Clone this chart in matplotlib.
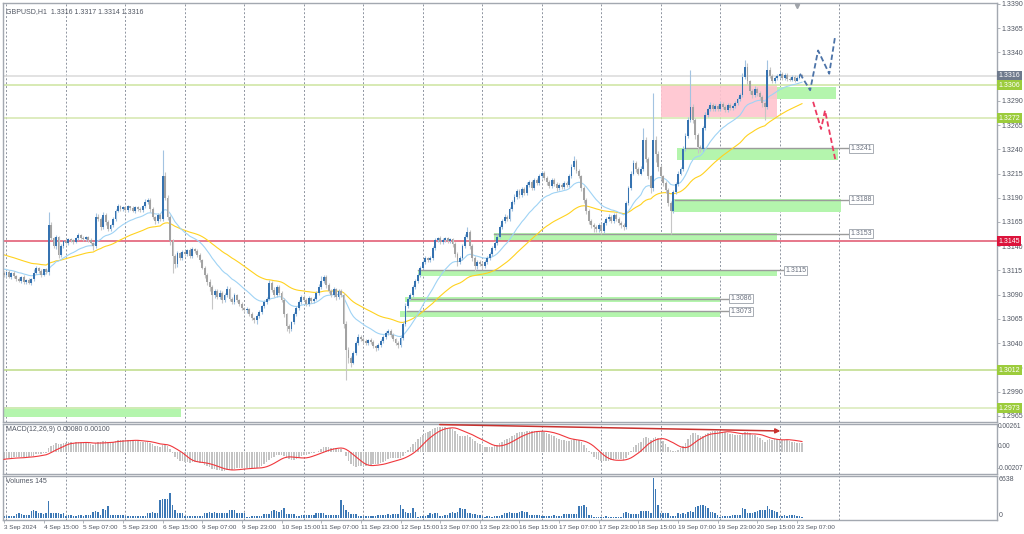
import numpy as np
import pandas as pd
import matplotlib
matplotlib.use('Agg')
import matplotlib.pyplot as plt
from matplotlib.patches import Rectangle
import matplotlib.transforms as mtransforms

plt.rcParams['font.family'] = ['Liberation Sans', 'DejaVu Sans']

# GBPUSD H1, first bar = 3 Sep 23:00 (server time)
first_open = 1.3112
closes = [
    1.3110, 1.3113, 1.3108, 1.3112, 1.3109, 1.3106, 1.3104, 1.3108, 1.3103, 1.3105,
    1.3102, 1.3106, 1.3112, 1.3118, 1.3114, 1.3110, 1.3116, 1.3113, 1.3162, 1.3148,
    1.3140, 1.3150, 1.3131, 1.3140, 1.3145, 1.3143, 1.3147, 1.3146, 1.3144, 1.3148,
    1.3152, 1.3149, 1.3147, 1.3150, 1.3146, 1.3143, 1.3140, 1.3170, 1.3168, 1.3160,
    1.3172, 1.3165, 1.3158, 1.3162, 1.3168, 1.3176, 1.3182, 1.3178, 1.3180, 1.3177,
    1.3181, 1.3179, 1.3176, 1.3180, 1.3178, 1.3177, 1.3181, 1.3186, 1.3188, 1.3178,
    1.3170, 1.3166, 1.3172, 1.3168, 1.3212, 1.3190, 1.3170, 1.3145, 1.3130, 1.3122,
    1.3133, 1.3128, 1.3134, 1.3132, 1.3136, 1.3130, 1.3137, 1.3135, 1.3131, 1.3126,
    1.3118, 1.3110, 1.3103, 1.3098, 1.3090, 1.3094, 1.3088, 1.3092, 1.3084, 1.3090,
    1.3096, 1.3086, 1.3082, 1.3090, 1.3084, 1.3080, 1.3076, 1.3074, 1.3075, 1.3070,
    1.3066, 1.3064, 1.3068, 1.3072, 1.3078, 1.3082, 1.3086, 1.3102, 1.3095, 1.3090,
    1.3098, 1.3092, 1.3085, 1.3070, 1.3058, 1.3055, 1.3062, 1.3070, 1.3076, 1.3082,
    1.3088, 1.3085, 1.3080, 1.3087, 1.3083, 1.3086, 1.3092, 1.3098, 1.3104, 1.3108,
    1.3100, 1.3094, 1.3090, 1.3096, 1.3088, 1.3094, 1.3090, 1.3060, 1.3033, 1.3025,
    1.3020, 1.3030, 1.3040, 1.3046, 1.3044, 1.3042, 1.3040, 1.3043, 1.3041, 1.3037,
    1.3035, 1.3038, 1.3042, 1.3046, 1.3050, 1.3053, 1.3048, 1.3044, 1.3040, 1.3038,
    1.3045, 1.3060, 1.3078, 1.3086, 1.3090, 1.3098, 1.3104, 1.3110, 1.3118, 1.3124,
    1.3128, 1.3126, 1.3128, 1.3138, 1.3146, 1.3148, 1.3144, 1.3146, 1.3148, 1.3145,
    1.3147, 1.3142, 1.3132, 1.3124, 1.3128, 1.3140, 1.3150, 1.3155, 1.3140, 1.3128,
    1.3120, 1.3124, 1.3122, 1.3120, 1.3124, 1.3128, 1.3132, 1.3138, 1.3143, 1.3150,
    1.3160, 1.3166, 1.3170, 1.3168, 1.3178, 1.3186, 1.3191, 1.3197, 1.3193, 1.3199,
    1.3195, 1.3203, 1.3206, 1.3200, 1.3208, 1.3205, 1.3212, 1.3216, 1.3210, 1.3206,
    1.3202, 1.3208, 1.3204, 1.3200, 1.3203, 1.3201, 1.3205, 1.3203, 1.3212, 1.3222,
    1.3228, 1.3218, 1.3212, 1.3200, 1.3188, 1.3176, 1.3166, 1.3162, 1.3160, 1.3158,
    1.3162, 1.3156, 1.3164, 1.3168, 1.3170, 1.3166, 1.3172, 1.3168, 1.3164, 1.3162,
    1.3160, 1.3185, 1.3200, 1.3215, 1.3226, 1.3220, 1.3215, 1.3220, 1.3250, 1.3230,
    1.3212, 1.3200, 1.3250, 1.3235, 1.3222, 1.3212, 1.3205, 1.3198, 1.3185, 1.3176,
    1.3196, 1.3204, 1.3215, 1.3220, 1.3240, 1.3254, 1.3270, 1.3284, 1.3270, 1.3255,
    1.3242, 1.3240, 1.3262, 1.3275, 1.3282, 1.3286, 1.3282, 1.3285, 1.3282, 1.3287,
    1.3284, 1.3281, 1.3286, 1.3283, 1.3285, 1.3288, 1.3292, 1.3296, 1.3315, 1.3325,
    1.3310, 1.3300, 1.3296, 1.3302, 1.3298, 1.3294, 1.3288, 1.3284, 1.3322, 1.3316,
    1.3310, 1.3314, 1.3316, 1.3318, 1.3314, 1.3317, 1.3313, 1.3312, 1.3315, 1.3311,
    1.3314, 1.3317, 1.3316,
]
# wick lengths in pips above / below the body
upper_wick = [
    2, 1, 2, 1, 2, 1, 2, 1, 2, 1, 2, 1, 4, 2, 1, 2, 1, 2, 13, 3,
    2, 2, 1, 2, 1, 2, 1, 2, 1, 2, 2, 1, 2, 1, 1, 2, 1, 4, 3, 2,
    3, 2, 2, 1, 2, 2, 2, 1, 2, 1, 2, 1, 2, 2, 1, 2, 2, 3, 2, 2,
    2, 1, 2, 2, 27, 5, 3, 2, 2, 2, 2, 1, 2, 2, 1, 2, 2, 1, 2, 2,
    1, 2, 2, 3, 2, 2, 2, 3, 2, 2, 3, 2, 2, 2, 1, 2, 2, 1, 2, 1,
    2, 1, 2, 2, 1, 2, 2, 3, 2, 3, 2, 2, 2, 2, 1, 2, 1, 2, 2, 2,
    2, 2, 2, 2, 1, 2, 2, 3, 5, 2, 2, 2, 2, 2, 1, 2, 2, 2, 3, 3,
    2, 2, 2, 3, 2, 2, 2, 1, 2, 2, 1, 2, 2, 2, 2, 2, 2, 2, 1, 2,
    2, 2, 3, 2, 2, 2, 2, 2, 2, 2, 2, 1, 2, 2, 3, 2, 3, 2, 2, 2,
    2, 2, 2, 2, 2, 2, 3, 5, 2, 2, 2, 2, 2, 2, 2, 2, 2, 2, 2, 3,
    2, 2, 3, 2, 2, 2, 3, 2, 2, 2, 2, 3, 2, 2, 2, 2, 3, 2, 2, 2,
    2, 2, 2, 2, 2, 2, 2, 2, 3, 3, 5, 2, 2, 2, 2, 2, 2, 2, 2, 2,
    2, 2, 2, 2, 3, 2, 2, 2, 2, 2, 2, 2, 2, 3, 3, 2, 2, 3, 12, 3,
    2, 2, 48, 4, 3, 2, 2, 2, 2, 2, 2, 2, 3, 2, 3, 3, 3, 38, 3, 2,
    2, 2, 2, 3, 2, 3, 2, 2, 2, 3, 2, 2, 2, 2, 2, 2, 2, 2, 4, 7,
    4, 2, 2, 3, 2, 2, 2, 2, 10, 3, 2, 2, 2, 3, 2, 2, 2, 2, 2, 2,
    2, 1, 1,
]
lower_wick = [
    2, 2, 1, 2, 2, 2, 1, 2, 2, 2, 1, 2, 2, 1, 2, 2, 1, 2, 3, 2,
    2, 3, 3, 2, 2, 1, 2, 2, 2, 1, 2, 2, 2, 2, 2, 1, 4, 2, 2, 3,
    2, 3, 2, 2, 2, 2, 1, 2, 2, 2, 2, 2, 1, 2, 2, 2, 2, 2, 2, 3,
    2, 3, 2, 2, 2, 2, 3, 4, 18, 4, 3, 2, 2, 2, 2, 2, 2, 2, 2, 2,
    2, 3, 3, 4, 15, 3, 2, 2, 3, 2, 2, 3, 2, 2, 2, 2, 2, 2, 3, 2,
    2, 3, 4, 2, 2, 2, 2, 2, 2, 2, 2, 2, 3, 3, 5, 5, 2, 2, 2, 2,
    2, 2, 2, 2, 2, 2, 2, 2, 2, 2, 3, 2, 2, 2, 3, 2, 2, 4, 31, 5,
    5, 2, 2, 2, 2, 2, 2, 2, 2, 2, 3, 2, 2, 2, 2, 2, 2, 2, 2, 3,
    2, 2, 2, 2, 2, 2, 2, 2, 2, 2, 2, 2, 2, 2, 2, 2, 2, 2, 2, 2,
    2, 3, 3, 4, 2, 2, 2, 2, 3, 3, 6, 3, 2, 3, 2, 2, 2, 2, 2, 2,
    2, 2, 2, 2, 2, 2, 2, 2, 3, 2, 2, 2, 2, 2, 2, 2, 2, 2, 2, 3,
    2, 2, 2, 3, 2, 2, 2, 2, 2, 2, 2, 2, 2, 3, 3, 3, 3, 3, 5, 3,
    3, 3, 2, 2, 2, 2, 2, 2, 2, 3, 3, 2, 2, 2, 2, 3, 2, 2, 2, 3,
    3, 5, 3, 8, 4, 3, 3, 3, 4, 23, 2, 2, 2, 2, 2, 2, 2, 2, 3, 4,
    6, 3, 2, 2, 2, 2, 2, 2, 2, 2, 2, 2, 2, 2, 2, 2, 2, 2, 2, 2,
    3, 3, 3, 2, 3, 3, 4, 14, 2, 2, 2, 2, 2, 2, 2, 2, 2, 2, 2, 2,
    1, 1, 1,
]
volumes = [
    250, 300, 200, 280, 320, 650, 700, 620, 450, 400,
    480, 1050, 1300, 1150, 720, 760, 680, 700, 2800, 760,
    720, 700, 740, 690, 720, 300, 380, 420, 300, 350,
    450, 400, 330, 420, 380, 450, 1000, 1150, 980, 450,
    1500, 1300, 2000, 520, 480, 500, 450, 520, 480, 320,
    300, 350, 280, 300, 330, 290, 310, 350, 780, 820,
    900, 760, 820, 3000, 3100, 3050, 3150, 4100, 2100, 1300,
    850, 830, 840, 320, 280, 300, 260, 330, 300, 280,
    310, 700, 850, 1000, 780, 900, 720, 730, 700, 760,
    720, 1250, 1350, 1200, 740, 700, 760, 720, 180, 170,
    200, 280, 300, 260, 290, 620, 600, 650, 1050, 1300,
    1150, 1000, 1200, 1570, 600, 650, 580, 620, 340, 320,
    360, 450, 420, 480, 440, 460, 730, 700, 760, 720,
    450, 430, 480, 500, 520, 480, 2970, 2100, 1300, 1000,
    650, 620, 680, 250, 200, 280, 230, 260, 300, 240,
    270, 500, 480, 520, 460, 540, 500, 560, 600, 580,
    2100, 1450, 1000, 840, 800, 1570, 1000, 170, 200, 300,
    250, 420, 700, 680, 720, 700, 350, 340, 380, 360,
    820, 900, 850, 1000, 1570, 1500, 1400, 750, 700, 600,
    650, 500, 520, 200, 180, 220, 200, 170, 230, 250,
    300, 400, 840, 800, 880, 820, 860, 840, 1000, 1050,
    980, 1000, 450, 480, 420, 460, 440, 300, 280, 320,
    340, 330, 360, 320, 280, 300, 620, 650, 600, 640,
    620, 660, 2020, 1900, 2050, 1800, 450, 420, 170, 150,
    180, 160, 170, 250, 170, 150, 180, 160, 170, 180,
    840, 880, 820, 560, 540, 580, 560, 1100, 1050, 1150,
    1100, 740, 6638, 4800, 2100, 730, 700, 760, 720, 280,
    300, 260, 700, 650, 720, 680, 1000, 1050, 980, 1800,
    2000, 2200, 2100, 1900, 1700, 1000, 900, 820, 400, 170,
    200, 340, 300, 250, 450, 420, 380, 400, 1570, 1500,
    720, 760, 700, 1000, 1150, 1300, 1200, 1250, 2020, 1450,
    1200, 1100, 1000, 340, 320, 360, 300, 450, 420, 480,
    280, 200, 145,
]
assert len(closes) == len(upper_wick) == len(lower_wick) == len(volumes)

time_label_bars = [0, 16, 32, 48, 64, 80, 96, 112, 128, 144, 160, 176, 192,
                   208, 224, 240, 256, 272, 288, 304, 320]
time_labels = ['3 Sep 2024', '4 Sep 15:00', '5 Sep 07:00', '5 Sep 23:00', '6 Sep 15:00',
               '9 Sep 07:00', '9 Sep 23:00', '10 Sep 15:00', '11 Sep 07:00', '11 Sep 23:00',
               '12 Sep 15:00', '13 Sep 07:00', '13 Sep 23:00', '16 Sep 15:00', '17 Sep 07:00',
               '17 Sep 23:00', '18 Sep 15:00', '19 Sep 07:00', '19 Sep 23:00', '20 Sep 15:00',
               '23 Sep 07:00']
day_start_bars = [1, 25, 49, 73, 97, 121, 145, 169, 193, 217, 241, 265, 289, 313, 337]
price_ticks = [1.2965, 1.2990, 1.3015, 1.3040, 1.3065, 1.3090, 1.3115, 1.3140, 1.3165,
               1.3190, 1.3215, 1.3240, 1.3265, 1.3290, 1.3340, 1.3365, 1.3390]

# indicator start states
fast_ma_start = 1.3117
slow_ma_start = 1.3132
macd_start = -0.0008

# horizontal lines across the chart
hline_prices = [1.3316, 1.3306, 1.3272, 1.3145, 1.3012, 1.2973]
hline_colors = ['#dadada', '#cde49f', '#d5e7ae', '#e0526b', '#bddb86', '#d8e9b8']
box_prices = [1.3316, 1.3306, 1.3272, 1.3145, 1.3012, 1.2973]
box_colors = ['#6f7a8c', '#9ccc3c', '#9ccc3c', '#dc143c', '#9ccc3c', '#9ccc3c']

# support zones (green)
zone_start = [307.1, 271.6, 269.6, 197.7, 167.0, 161.8, 159.8, -0.4]
zone_end = [335.8, 336.6, 337.8, 311.9, 311.9, 288.9, 288.9, 71.4]
zone_top = [1.3304, 1.3241, 1.3189, 1.3154, 1.3114, 1.3088, 1.3073, 1.2974]
zone_bottom = [1.3292, 1.3229, 1.3175, 1.3145, 1.3109, 1.3082, 1.3067, 1.2964]
# resistance zone (pink)
pink_start, pink_end, pink_top, pink_bottom = 265.1, 311.9, 1.3306, 1.3273

# marked levels with price tags
level_prices = [1.3241, 1.3188, 1.3153, 1.3115, 1.3086, 1.3073]
level_start = [274.8, 270.8, 197.7, 167.0, 163.8, 162.6]
level_end = [340.6, 340.6, 340.6, 314.4, 292.2, 292.2]

# forecast paths
bull_path_bars = [321.2, 325.3, 328.5, 333.0, 335.4]
bull_path_prices = [1.3318, 1.3301, 1.3342, 1.3318, 1.3357]
bear_path_bars = [326.5, 329.7, 331.3, 335.4]
bear_path_prices = [1.3289, 1.3261, 1.3280, 1.3230]

# divergence line on MACD
macd_arrow_bars = [174.7, 314.4]
macd_arrow_vals = [0.00253, 0.00192]


def seeded_ema(values, span, start):
    k = 2.0 / (span + 1)
    out = np.empty(len(values))
    prev = start
    for i, v in enumerate(values):
        prev = prev + k * (v - prev)
        out[i] = prev
    return out


n = len(closes)
idx = np.arange(n)
c = np.array(closes)
o = np.concatenate([[first_open], c[:-1]])
hi = np.maximum(o, c) + np.array(upper_wick) * 0.0001
lo = np.minimum(o, c) - np.array(lower_wick) * 0.0001
up = c >= o

fast_ma = seeded_ema(c, 20, fast_ma_start)
slow_ma = seeded_ema(c, 50, slow_ma_start)
ema12 = seeded_ema(c, 12, c[0])
ema26 = seeded_ema(c, 26, c[0] - macd_start)
macd = ema12 - ema26
signal = pd.Series(macd).rolling(9, min_periods=1).mean().values

W, H = 1024, 534
fig = plt.figure(figsize=(W / 100, H / 100), dpi=100)
fig.patch.set_facecolor('white')


def fax(x0, y0, x1, y1):
    return fig.add_axes([x0 / W, 1 - y1 / H, (x1 - x0) / W, (y1 - y0) / H])


ax = fax(3, 3, 997, 422)
axm = fax(3, 424, 997, 474)
axv = fax(3, 476, 997, 520)

xmin, xmax = -0.4, 400.7
spine_col = '#a3a8b0'
grid_col = '#8e94a0'
txt_col = '#505662'
fs = 5.0

for a in (ax, axm, axv):
    a.set_xlim(xmin, xmax)
    a.set_facecolor('white')
    for s in a.spines.values():
        s.set_color(spine_col)
        s.set_linewidth(1.0)
    for b in day_start_bars:
        a.axvline(b, color=grid_col, lw=0.7, ls=(0, (2, 2)), zorder=0.5)
    a.tick_params(axis='x', bottom=False, labelbottom=False)

# ---- main price panel
ax.set_ylim(1.29586, 1.33910)
for s, e, t, b in zip(zone_start, zone_end, zone_top, zone_bottom):
    ax.add_patch(Rectangle((s, b), e - s, t - b, facecolor='#b4f5ad', edgecolor='none', zorder=1))
ax.add_patch(Rectangle((pink_start, pink_bottom), pink_end - pink_start, pink_top - pink_bottom,
                       facecolor='#ffc3cf', edgecolor='none', alpha=0.9, zorder=1.1))

for p, col in zip(hline_prices, hline_colors):
    ax.axhline(p, color=col, lw=1.1, zorder=1.5)

for p, s, e in zip(level_prices, level_start, level_end):
    ax.plot([s, e], [p, p], color='#9b9b9b', lw=1.0, zorder=1.6)
    ax.text(e + 0.8, p, '%.4f' % p, fontsize=fs, color='#6b7280', va='center', ha='left',
            bbox=dict(boxstyle='square,pad=0.15', fc='white', ec='#9aa0a8', lw=0.6), zorder=6)

ax.plot(idx, slow_ma, color='#ffd21f', lw=0.8, zorder=2)
ax.plot(idx, fast_ma, color='#9fd3f5', lw=0.8, zorder=2.1)

wick_cols = np.where(up, '#a3c3e1', '#c6c6c6')
body_cols = np.where(up, '#3572b0', '#a2a2a2')
ax.vlines(idx, lo, hi, colors=wick_cols, lw=0.8, zorder=3)
body_h = np.maximum(np.abs(c - o), 0.00004)
ax.bar(idx, body_h, bottom=np.minimum(o, c), width=0.75, color=body_cols, linewidth=0, zorder=4)

ax.plot(bull_path_bars, bull_path_prices, color='#4c73a8', lw=1.3, ls=(0, (3, 1.6)), zorder=5)
ax.plot(bear_path_bars, bear_path_prices, color='#ec3a62', lw=1.3, ls=(0, (3, 1.6)), zorder=5)

ax.yaxis.tick_right()
ax.set_yticks(price_ticks)
ax.set_yticklabels(['%.4f' % p for p in price_ticks])
ax.tick_params(axis='y', length=2, width=0.6, color=spine_col, labelsize=fs,
               labelcolor=txt_col, pad=1.5)

blend = mtransforms.blended_transform_factory(ax.transAxes, ax.transData)
for p, col in zip(box_prices, box_colors):
    ax.text(1.0015, p, '%.4f' % p, transform=blend, fontsize=fs, color='white', va='center',
            ha='left', clip_on=False, zorder=10,
            bbox=dict(boxstyle='square,pad=0.2', fc=col, ec='none'))

top_blend = mtransforms.blended_transform_factory(ax.transData, ax.transAxes)
ax.plot([320], [0.993], marker='v', ms=3, color='#a0a4aa', transform=top_blend, clip_on=False, zorder=7)
ax.text(0.003, 0.988, 'GBPUSD,H1  1.3316 1.3317 1.3314 1.3316', transform=ax.transAxes,
        fontsize=fs, color=txt_col, va='top', ha='left')

# ---- MACD panel
axm.set_ylim(-0.00211, 0.00258)
axm.bar(idx, macd, width=0.6, color='#c3c3c3', linewidth=0, zorder=2)
axm.plot(idx, signal, color='#f0373c', lw=0.8, zorder=3)
axm.annotate('', xy=(macd_arrow_bars[1], macd_arrow_vals[1]),
             xytext=(macd_arrow_bars[0], macd_arrow_vals[0]),
             arrowprops=dict(arrowstyle='-|>', color='#c8322f', lw=1.1, mutation_scale=7), zorder=4)
axm.set_yticks([])
axm.text(0.003, 0.96, 'MACD(12,26,9) 0.00080 0.00100', transform=axm.transAxes,
         fontsize=fs, color=txt_col, va='top', ha='left')
for frac, lab in zip([0.94, 0.55, 0.1], ['0.00261', '0.00', '-0.00207']):
    axm.text(1.001, frac, lab, transform=axm.transAxes, fontsize=4.7, color=txt_col,
             va='center', ha='left', clip_on=False)

# ---- volume panel
axv.set_ylim(-400, 7000)
axv.bar(idx, volumes, width=0.6, color='#3c78b5', linewidth=0, zorder=2)
axv.set_yticks([])
axv.text(0.003, 0.95, 'Volumes 145', transform=axv.transAxes,
         fontsize=fs, color=txt_col, va='top', ha='left')
for frac, lab in zip([0.91, 0.1], ['6638', '0']):
    axv.text(1.002, frac, lab, transform=axv.transAxes, fontsize=fs, color=txt_col,
             va='center', ha='left', clip_on=False)

axv.set_xticks(time_label_bars)
axv.set_xticklabels(time_labels)
axv.tick_params(axis='x', bottom=True, labelbottom=True, length=2, width=0.6,
                color=spine_col, labelsize=4.6, labelcolor=txt_col, pad=1.5)
for lab in axv.get_xticklabels():
    lab.set_horizontalalignment('left')

fig.savefig('out.png', dpi=100, facecolor='white')
